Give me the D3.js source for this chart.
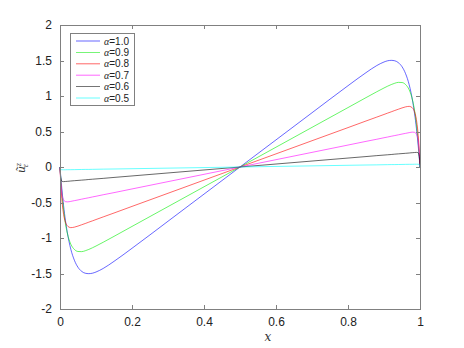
<!DOCTYPE html>
<html><head><meta charset="utf-8">
<script src="https://cdn.jsdelivr.net/npm/d3@7"></script>
<style>
body{margin:0;background:#fff;}
svg{display:block;}
</style></head>
<body>
<svg id="chart" width="464" height="348"></svg>
<script>
const xs = [0,0.002,0.005,0.01,0.015,0.02,0.025,0.03,0.04,0.05,0.06,0.07,0.08,0.09,0.1,0.12,0.15,0.2,0.3,0.4,0.5,
            0.6,0.7,0.8,0.85,0.88,0.9,0.91,0.92,0.93,0.94,0.95,0.96,0.97,0.975,0.98,0.985,0.99,0.995,0.998,1];

const alpha10 = [0,-0.127,-0.300,-0.547,-0.749,-0.913,-1.049,-1.158,-1.314,-1.413,-1.469,-1.496,-1.502,-1.496,-1.479,-1.429,-1.329,-1.145,-0.764,-0.382,0,
                 0.382,0.764,1.145,1.329,1.429,1.479,1.496,1.502,1.496,1.469,1.413,1.314,1.158,1.049,0.913,0.749,0.547,0.300,0.127,0];
const alpha09 = [0,-0.154,-0.352,-0.608,-0.793,-0.926,-1.020,-1.087,-1.161,-1.190,-1.192,-1.180,-1.161,-1.138,-1.113,-1.060,-0.977,-0.837,-0.558,-0.279,0,
                 0.279,0.558,0.837,0.977,1.060,1.113,1.138,1.161,1.180,1.192,1.190,1.161,1.087,1.020,0.926,0.793,0.608,0.352,0.154,0];
const alpha08 = [0,-0.215,-0.446,-0.668,-0.776,-0.826,-0.847,-0.854,-0.847,-0.832,-0.814,-0.796,-0.777,-0.759,-0.740,-0.703,-0.648,-0.555,-0.370,-0.185,0,
                 0.185,0.370,0.555,0.648,0.703,0.740,0.759,0.777,0.796,0.814,0.832,0.847,0.854,0.847,0.826,0.776,0.668,0.446,0.215,0];
const alpha07 = [0,-0.202,-0.364,-0.463,-0.488,-0.491,-0.489,-0.484,-0.474,-0.464,-0.453,-0.443,-0.433,-0.422,-0.412,-0.391,-0.361,-0.309,-0.206,-0.103,0,
                 0.103,0.206,0.309,0.361,0.391,0.412,0.422,0.433,0.443,0.453,0.464,0.474,0.484,0.489,0.491,0.488,0.463,0.364,0.202,0];
const alpha06 = [0,-0.150,-0.200,-0.206,-0.204,-0.202,-0.200,-0.197,-0.193,-0.189,-0.185,-0.181,-0.176,-0.172,-0.168,-0.160,-0.147,-0.126,-0.084,-0.042,0,
                 0.042,0.084,0.126,0.147,0.160,0.168,0.172,0.176,0.181,0.185,0.189,0.193,0.197,0.200,0.202,0.204,0.206,0.200,0.150,0];
const alpha05 = [0,-0.034,-0.039,-0.039,-0.039,-0.038,-0.038,-0.038,-0.037,-0.036,-0.035,-0.034,-0.034,-0.033,-0.032,-0.030,-0.028,-0.024,-0.016,-0.008,0,
                 0.008,0.016,0.024,0.028,0.030,0.032,0.033,0.034,0.034,0.035,0.036,0.037,0.038,0.038,0.038,0.039,0.039,0.039,0.034,0];

const seriesNames = ["1.0","0.9","0.8","0.7","0.6","0.5"];
const seriesColors = ["#0000ff","#00ee00","#ff0000","#ff00ff","#000000","#00ffff"];
const seriesValues = [alpha10, alpha09, alpha08, alpha07, alpha06, alpha05];

const xTicks = [0,0.2,0.4,0.6,0.8,1];
const xTickLabels = ["0","0.2","0.4","0.6","0.8","1"];
const yTicks = [-2,-1.5,-1,-0.5,0,0.5,1,1.5,2];
const yTickLabels = ["-2","-1.5","-1","-0.5","0","0.5","1","1.5","2"];

(function(){
const svg = d3.select("#chart");
const L = 60, R = 420, T = 25, B = 309;
const x = d3.scaleLinear().domain([0,1]).range([L,R]);
const y = d3.scaleLinear().domain([-2,2]).range([B,T]);

const axisColor = "#808080";
const font = "'Liberation Sans', Arial, sans-serif";

const plot = svg.append("g");
const line = d3.line().x((d,i)=>x(xs[i])).y(d=>y(d)).curve(d3.curveMonotoneX);
seriesValues.forEach((vals,k)=>{
  plot.append("path").attr("d", line(vals)).attr("fill","none")
    .attr("stroke", seriesColors[k]).attr("stroke-width",0.7).attr("opacity",0.85);
});

const ax = svg.append("g");
ax.append("rect").attr("x",L).attr("y",T).attr("width",R-L).attr("height",B-T)
  .attr("fill","none").attr("stroke",axisColor).attr("stroke-width",1).attr("shape-rendering","crispEdges");

const axB = d3.axisBottom(x).tickValues(xTicks).tickSize(-4).tickPadding(8).tickFormat((d,i)=>xTickLabels[i]);
const axT = d3.axisTop(x).tickValues(xTicks).tickSize(-4).tickFormat("");
const axL = d3.axisLeft(y).tickValues(yTicks).tickSize(-4).tickPadding(8).tickFormat((d,i)=>yTickLabels[i]);
const axR = d3.axisRight(y).tickValues(yTicks).tickSize(-4).tickFormat("");

function style(g){
  g.select(".domain").remove();
  g.selectAll(".tick line").attr("stroke",axisColor).attr("shape-rendering","crispEdges");
  g.selectAll(".tick text").attr("fill","#222").style("font-family",font).style("font-size","12px");
}
ax.append("g").attr("transform",`translate(0,${B})`).call(axB).call(style);
ax.append("g").attr("transform",`translate(0,${T})`).call(axT).call(style);
ax.append("g").attr("transform",`translate(${L},0)`).call(axL).call(style);
ax.append("g").attr("transform",`translate(${R},0)`).call(axR).call(style);

svg.append("text").attr("x",268).attr("y",341).attr("text-anchor","middle")
  .style("font-family","'DejaVu Serif', 'Liberation Serif', serif").style("font-style","italic").style("font-size","12px")
  .attr("fill","#333").text("x");

const yl = svg.append("text").attr("transform","translate(25,168) rotate(-90)").attr("text-anchor","middle")
  .style("font-family","'Liberation Serif', serif").style("font-style","italic").style("font-size","13px").attr("fill","#333");
yl.append("tspan").text("ũ");
yl.append("tspan").attr("dy",-4).style("font-size","8px").text("z");
yl.append("tspan").attr("dx",-4).attr("dy",7).style("font-size","8px").text("ε");

const lg = svg.append("g");
lg.append("rect").attr("x",70.5).attr("y",33.5).attr("width",64).attr("height",72)
  .attr("fill","#fff").attr("stroke",axisColor).attr("stroke-width",1);
seriesNames.forEach((n,k)=>{
  const yy = 41 + k*11.4;
  lg.append("line").attr("x1",76).attr("x2",100).attr("y1",yy).attr("y2",yy)
    .attr("stroke",seriesColors[k]).attr("stroke-width",0.7).attr("opacity",0.85);
  const t = lg.append("text").attr("x",104).attr("y",yy+3.5).attr("fill","#222").style("font-size","10px");
  t.append("tspan").style("font-family","'Liberation Serif', serif").style("font-style","italic").text("α");
  t.append("tspan").style("font-family",font).text("=" + n);
});
})();
</script>
</body></html>
